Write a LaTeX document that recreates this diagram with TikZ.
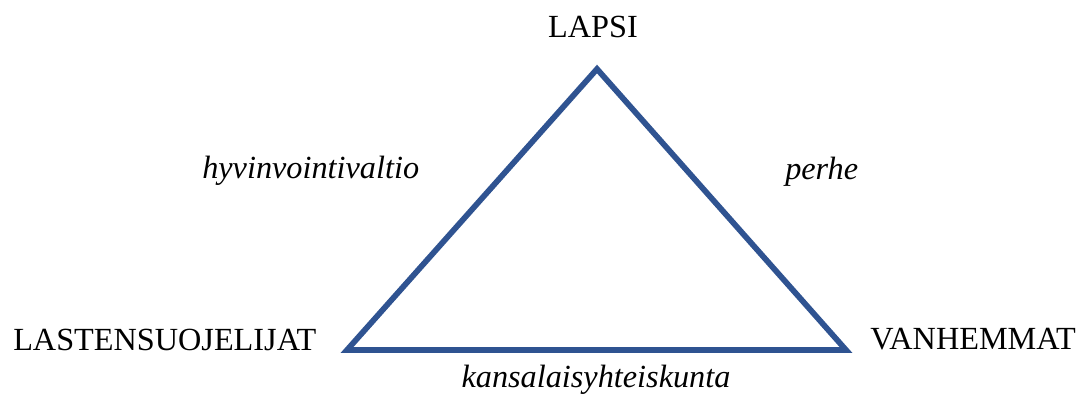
\documentclass[tikz,border=0pt]{standalone}
\usepackage{fontspec}
\setmainfont{Liberation Serif}
\definecolor{triblue}{RGB}{47,83,145}
\tikzset{every picture/.style={/utils/exec={\fontsize{24.2}{28}\selectfont}},
  role/.style={inner sep=0pt, anchor=base},       % corner labels
  bond/.style={inner sep=0pt, anchor=base, font=\itshape}, % side labels
  edgeline/.style={draw=triblue, line width=4.3pt, line join=miter}}

\begin{document}
\begin{tikzpicture}[x=0.75pt, y=-0.75pt]
  \useasboundingbox (0,0) rectangle (1080,400);

  % corners of the triangle
  \coordinate (top) at (597,69);
  \coordinate (left) at (347,350);
  \coordinate (right) at (846,350);

  \draw [edgeline] (top) -- (right) -- (left) -- cycle;

  % the three parties
  \node [role] (lapsi) at (593,37) {LAPSI};
  \node [role, anchor=base west] (suojelijat) at (13,350) {LASTENSUOJELIJAT};
  \node [role, anchor=base west] (vanhemmat) at (870,349) {VANHEMMAT};

  % what binds them
  \node [bond, anchor=base west] (valtio) at (202,178) {hyvinvointivaltio};
  \node [bond, anchor=base west] (perhe) at (785,179) {perhe};
  \node [bond] (yhteiskunta) at (596,387) {kansalaisyhteiskunta};
\end{tikzpicture}
\end{document}
